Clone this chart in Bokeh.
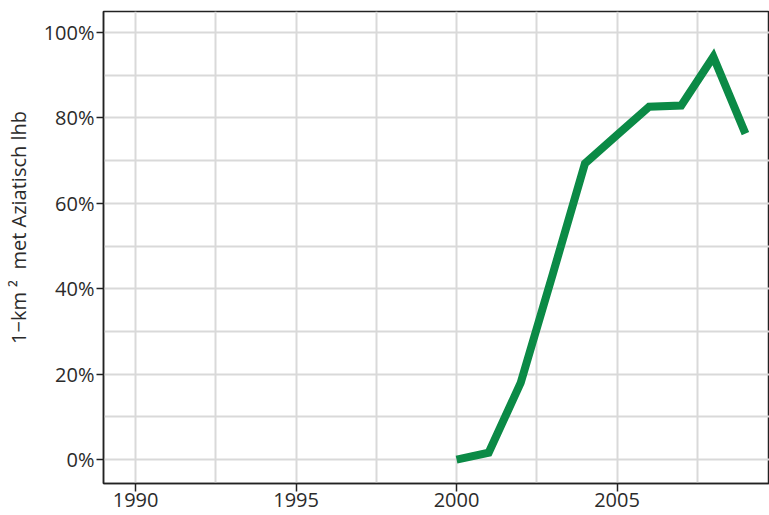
from bokeh.plotting import figure
from bokeh.models import FixedTicker, PrintfTickFormatter, Range1d
from bokeh.embed import file_html
from bokeh.resources import INLINE

years = [2000, 2001, 2002, 2003, 2004, 2005, 2006, 2007, 2008, 2009]
share = [0.0, 1.6, 18.0, 43.5, 69.3, 76.0, 82.6, 82.9, 94.3, 76.3]
x_ticks = [1990, 1995, 2000, 2005]
y_ticks = [0, 20, 40, 60, 80, 100]
x_grid = [1990, 1992.5, 1995, 1997.5, 2000, 2002.5, 2005, 2007.5]
y_grid = [0, 10, 20, 30, 40, 50, 60, 70, 80, 90, 100]

FONT = "Open Sans"
TXT = "#2b2b2b"

p = figure(width=769, height=515, output_backend="svg", toolbar_location=None,
           x_range=Range1d(1989.0, 2009.75), y_range=Range1d(-5.6, 104.9),
           min_border_left=103, min_border_right=0, min_border_top=11, min_border_bottom=32)

p.outline_line_color = "#222222"
p.outline_line_width = 1.5

p.xgrid.ticker = FixedTicker(ticks=x_grid)
p.ygrid.ticker = FixedTicker(ticks=y_grid)
for g in (p.xgrid, p.ygrid):
    g.grid_line_color = "#d9d9d9"
    g.grid_line_width = 2

p.xaxis.ticker = FixedTicker(ticks=x_ticks)
p.yaxis.ticker = FixedTicker(ticks=y_ticks)
p.yaxis.formatter = PrintfTickFormatter(format="%d%%")

for ax in (p.xaxis, p.yaxis):
    ax.axis_line_color = "#222222"
    ax.axis_line_width = 1.5
    ax.major_tick_line_color = "#222222"
    ax.major_tick_line_width = 1.5
    ax.major_tick_in = 0
    ax.minor_tick_line_color = None
    ax.major_label_text_font = FONT
    ax.major_label_text_font_size = "20px"
    ax.major_label_text_color = TXT
p.xaxis.major_tick_out = 8
p.yaxis.major_tick_out = 7
p.xaxis.major_label_standoff = 1
p.yaxis.major_label_standoff = 2

p.yaxis.axis_label = "\u2003\u20031\u2212km\u00a0\u00b2\u00a0\u00a0met Aziatisch lhb"
p.yaxis.axis_label_text_font = FONT
p.yaxis.axis_label_text_font_size = "20px"
p.yaxis.axis_label_text_font_style = "normal"
p.yaxis.axis_label_text_color = TXT
p.yaxis.axis_label_standoff = 9

p.line(years, share, line_color="#0b8a46", line_width=8, line_join="miter")

open("out.html", "w").write(file_html(p, INLINE))
